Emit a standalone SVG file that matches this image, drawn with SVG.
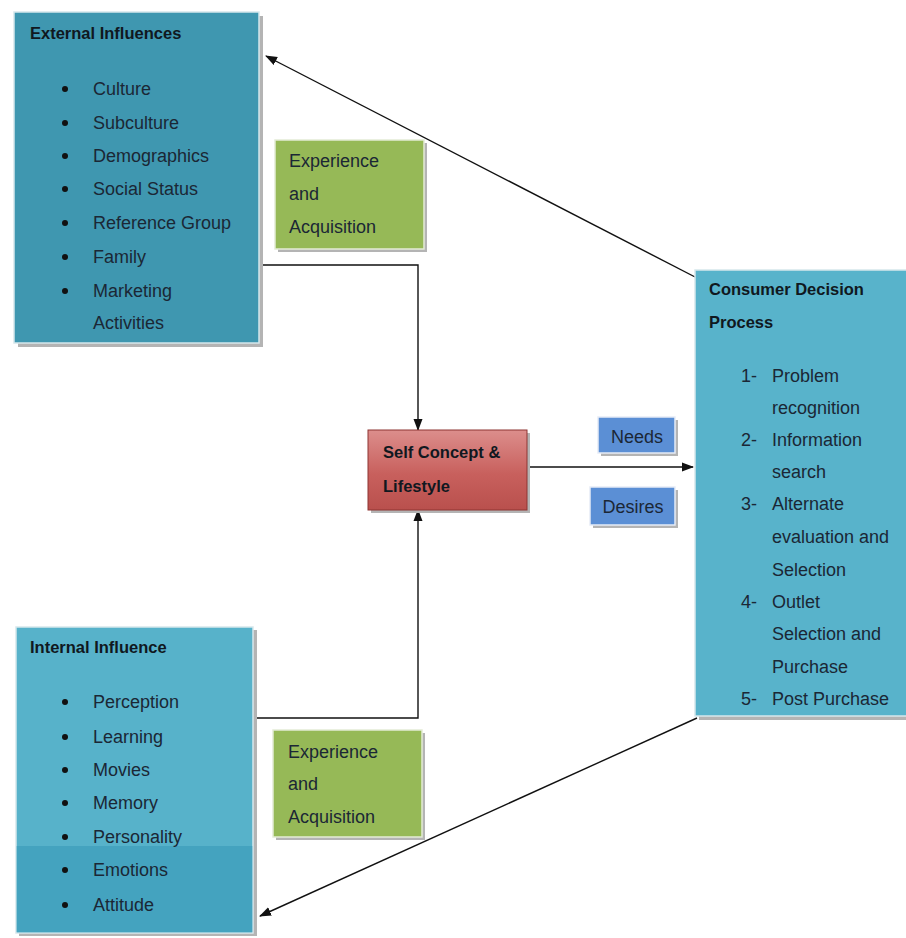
<svg xmlns="http://www.w3.org/2000/svg" width="906" height="938" viewBox="0 0 906 938">
  <defs>
    <style>
      .txt { font-family: "Liberation Sans", Arial, sans-serif; font-size: 18px; fill: #1b2735; }
      .ttl { font-family: "Liberation Sans", Arial, sans-serif; font-size: 16.5px; font-weight: bold; fill: #101820; }
      .shadow { fill: #b4b4b4; }
      .teal { stroke: #d6e7ec; stroke-width: 1.5; }
      .green { fill: #96b957; stroke: #e4ecd6; stroke-width: 1.5; }
      .blue { fill: #5b8fd5; stroke: #e6ecf6; stroke-width: 1.5; }
      .bullet { fill: #111; }
      .conn { fill: none; stroke: #111; stroke-width: 1.4; }
    </style>
    <marker id="arrow" viewBox="0 0 12 10" refX="11" refY="5" markerWidth="12" markerHeight="10" markerUnits="userSpaceOnUse" orient="auto">
      <path d="M0,0.5 L12,5 L0,9.5 z" fill="#111"/>
    </marker>
    <linearGradient id="redGrad" x1="0" y1="0" x2="0" y2="1">
      <stop offset="0" stop-color="#dc8e8c"/>
      <stop offset="0.55" stop-color="#c8605d"/>
      <stop offset="1" stop-color="#b9504d"/>
    </linearGradient>
  </defs>

  <rect width="906" height="938" fill="#ffffff"/>

  <!-- connectors -->
  <g id="connectors">
    <line class="conn" x1="697" y1="278" x2="266" y2="56" marker-end="url(#arrow)"/>
    <line class="conn" x1="697" y1="718" x2="260" y2="916" marker-end="url(#arrow)"/>
    <polyline class="conn" points="259,265 418,265 418,430" marker-end="url(#arrow)"/>
    <polyline class="conn" points="254,718 418,718 418,510" marker-end="url(#arrow)"/>
    <line class="conn" x1="528" y1="467" x2="693" y2="467" marker-end="url(#arrow)"/>
  </g>

  <!-- External Influences -->
  <g id="external-influences">
    <rect class="shadow" x="18" y="16" width="245" height="331"/>
    <rect class="teal" x="14" y="12" width="245" height="331" fill="#3f97b0"/>
    <text class="ttl" x="30" y="39">External Influences</text>
    <g>
      <circle class="bullet" cx="65" cy="89" r="3"/>
      <circle class="bullet" cx="65" cy="123" r="3"/>
      <circle class="bullet" cx="65" cy="156" r="3"/>
      <circle class="bullet" cx="65" cy="189" r="3"/>
      <circle class="bullet" cx="65" cy="223" r="3"/>
      <circle class="bullet" cx="65" cy="257" r="3"/>
      <circle class="bullet" cx="65" cy="291" r="3"/>
    </g>
    <text class="txt" x="93" y="95">Culture</text>
    <text class="txt" x="93" y="129">Subculture</text>
    <text class="txt" x="93" y="162">Demographics</text>
    <text class="txt" x="93" y="195">Social Status</text>
    <text class="txt" x="93" y="229">Reference Group</text>
    <text class="txt" x="93" y="263">Family</text>
    <text class="txt" x="93" y="297">Marketing</text>
    <text class="txt" x="93" y="329">Activities</text>
  </g>

  <!-- Experience and Acquisition (upper) -->
  <g id="experience-upper">
    <rect class="shadow" x="278" y="143" width="149" height="109"/>
    <rect class="green" x="275" y="140" width="149" height="109"/>
    <text class="txt" x="289" y="167">Experience</text>
    <text class="txt" x="289" y="200">and</text>
    <text class="txt" x="289" y="233">Acquisition</text>
  </g>

  <!-- Self Concept & Lifestyle -->
  <g id="self-concept">
    <rect class="shadow" x="371" y="433" width="159" height="80"/>
    <rect x="368" y="430" width="159" height="80" fill="url(#redGrad)" stroke="#8e3533" stroke-width="1"/>
    <text class="ttl" x="383" y="458">Self Concept &amp;</text>
    <text class="ttl" x="383" y="492">Lifestyle</text>
  </g>

  <!-- Needs -->
  <g id="needs">
    <rect class="shadow" x="601" y="420" width="77" height="36"/>
    <rect class="blue" x="598" y="417" width="77" height="36"/>
    <text class="txt" x="637" y="443" text-anchor="middle" fill="#1e2f4d">Needs</text>
  </g>

  <!-- Desires -->
  <g id="desires">
    <rect class="shadow" x="593" y="490" width="85" height="38"/>
    <rect class="blue" x="590" y="487" width="85" height="38"/>
    <text class="txt" x="633" y="513" text-anchor="middle" fill="#1e2f4d">Desires</text>
  </g>

  <!-- Consumer Decision Process -->
  <g id="consumer-decision-process">
    <rect class="shadow" x="699" y="274" width="212" height="446"/>
    <rect class="teal" x="695" y="270" width="215" height="446" fill="#58b3cb"/>
    <text class="ttl" x="709" y="295">Consumer Decision</text>
    <text class="ttl" x="709" y="328">Process</text>
    <text class="txt" x="741" y="382">1-</text>
    <text class="txt" x="772" y="382">Problem</text>
    <text class="txt" x="772" y="414">recognition</text>
    <text class="txt" x="741" y="446">2-</text>
    <text class="txt" x="772" y="446">Information</text>
    <text class="txt" x="772" y="478">search</text>
    <text class="txt" x="741" y="510">3-</text>
    <text class="txt" x="772" y="510">Alternate</text>
    <text class="txt" x="772" y="543">evaluation and</text>
    <text class="txt" x="772" y="576">Selection</text>
    <text class="txt" x="741" y="608">4-</text>
    <text class="txt" x="772" y="608">Outlet</text>
    <text class="txt" x="772" y="640">Selection and</text>
    <text class="txt" x="772" y="673">Purchase</text>
    <text class="txt" x="741" y="705">5-</text>
    <text class="txt" x="772" y="705">Post Purchase</text>
  </g>

  <!-- Internal Influence -->
  <g id="internal-influence">
    <rect class="shadow" x="19" y="630" width="238" height="306"/>
    <rect class="teal" x="16" y="627" width="237" height="306" fill="#57b2ca"/>
    <rect x="16.75" y="846" width="235.5" height="86.25" fill="#44a3bf"/>
    <text class="ttl" x="30" y="653">Internal Influence</text>
    <g>
      <circle class="bullet" cx="65" cy="702" r="3"/>
      <circle class="bullet" cx="65" cy="737" r="3"/>
      <circle class="bullet" cx="65" cy="770" r="3"/>
      <circle class="bullet" cx="65" cy="803" r="3"/>
      <circle class="bullet" cx="65" cy="837" r="3"/>
      <circle class="bullet" cx="65" cy="870" r="3"/>
      <circle class="bullet" cx="65" cy="905" r="3"/>
    </g>
    <text class="txt" x="93" y="708">Perception</text>
    <text class="txt" x="93" y="743">Learning</text>
    <text class="txt" x="93" y="776">Movies</text>
    <text class="txt" x="93" y="809">Memory</text>
    <text class="txt" x="93" y="843">Personality</text>
    <text class="txt" x="93" y="876">Emotions</text>
    <text class="txt" x="93" y="911">Attitude</text>
  </g>

  <!-- Experience and Acquisition (lower) -->
  <g id="experience-lower">
    <rect class="shadow" x="276" y="733" width="149" height="107"/>
    <rect class="green" x="273" y="730" width="149" height="107"/>
    <text class="txt" x="288" y="758">Experience</text>
    <text class="txt" x="288" y="790">and</text>
    <text class="txt" x="288" y="823">Acquisition</text>
  </g>
</svg>
